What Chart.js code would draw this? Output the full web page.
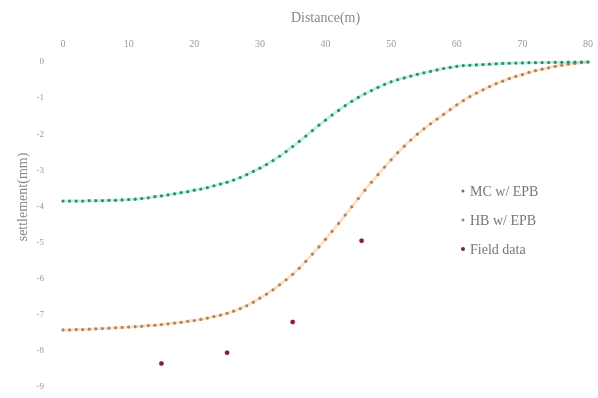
<!DOCTYPE html>
<html>
<head>
<meta charset="utf-8">
<script src="https://cdn.jsdelivr.net/npm/chart.js@4"></script>
<style>
  html, body { margin: 0; padding: 0; background: #fff; }
  #wrap { width: 598px; height: 398px; }
</style>
</head>
<body>
<div id="wrap"><canvas id="settlementChart"></canvas></div>
<script>
// distance along the section (m)
const distance = [0,1,2,3,4,5,6,7,8,9,10,11,12,13,14,15,16,17,18,19,20,
  21,22,23,24,25,26,27,28,29,30,31,32,33,34,35,36,37,38,39,40,
  41,42,43,44,45,46,47,48,49,50,51,52,53,54,55,56,57,58,59,60,
  61,62,63,64,65,66,67,68,69,70,71,72,73,74,75,76,77,78,79,80];

// MC w/ EPB settlement (mm)
const mcEpb = [-3.85,-3.85,-3.85,-3.85,-3.84,-3.84,-3.84,-3.83,-3.83,-3.82,-3.81,
  -3.80,-3.78,-3.76,-3.73,-3.71,-3.68,-3.65,-3.62,-3.59,-3.55,
  -3.52,-3.48,-3.43,-3.38,-3.33,-3.27,-3.20,-3.12,-3.03,-2.94,
  -2.84,-2.73,-2.61,-2.48,-2.34,-2.20,-2.05,-1.90,-1.75,-1.61,
  -1.47,-1.34,-1.21,-1.09,-0.98,-0.88,-0.79,-0.70,-0.62,-0.55,
  -0.49,-0.44,-0.39,-0.34,-0.30,-0.26,-0.22,-0.18,-0.15,-0.12,
  -0.10,-0.09,-0.08,-0.07,-0.06,-0.05,-0.04,-0.035,-0.03,-0.025,
  -0.02,-0.02,-0.015,-0.015,-0.01,-0.01,-0.005,-0.005,0,0];

// HB w/ EPB settlement (mm)
const hbEpb = [-7.42,-7.42,-7.41,-7.41,-7.40,-7.39,-7.38,-7.37,-7.36,-7.35,-7.34,
  -7.33,-7.32,-7.30,-7.29,-7.27,-7.25,-7.23,-7.21,-7.18,-7.16,
  -7.13,-7.09,-7.05,-7.01,-6.96,-6.90,-6.83,-6.75,-6.65,-6.54,
  -6.43,-6.31,-6.17,-6.03,-5.88,-5.71,-5.52,-5.32,-5.12,-4.91,
  -4.69,-4.47,-4.24,-4.01,-3.78,-3.55,-3.33,-3.12,-2.91,-2.71,
  -2.51,-2.33,-2.16,-2.00,-1.85,-1.71,-1.58,-1.45,-1.32,-1.19,
  -1.07,-0.96,-0.86,-0.77,-0.68,-0.60,-0.53,-0.46,-0.40,-0.35,
  -0.29,-0.24,-0.20,-0.16,-0.12,-0.09,-0.06,-0.04,-0.02,0];

// field measurements
const fieldX = [15, 25, 35, 45.5];
const fieldY = [-8.35, -8.05, -7.2, -4.95];

const xTicks = [0, 10, 20, 30, 40, 50, 60, 70, 80];
const yTicks = [0, -1, -2, -3, -4, -5, -6, -7, -8, -9];

const toPoints = (xs, ys) => xs.map((x, i) => ({ x: x, y: ys[i] }));

const serif = "'Liberation Serif', 'DejaVu Serif', serif";

// legend inside the plot + y title centred on the canvas
const extras = {
  id: 'extras',
  afterDraw(chart) {
    const c = chart.ctx;
    c.save();
    c.font = '14px ' + serif;
    c.fillStyle = '#888';
    c.textAlign = 'center';
    c.textBaseline = 'middle';
    c.translate(23, 197);
    c.rotate(-Math.PI / 2);
    c.fillText('settlement(mm)', 0, 0);
    c.restore();

    const x0 = 463, y0 = 191, gap = 29;
    c.save();
    c.font = '14px ' + serif;
    c.textBaseline = 'middle';
    chart.data.datasets.forEach((ds, i) => {
      const y = y0 + i * gap;
      c.fillStyle = ds.legendColor;
      c.beginPath();
      c.arc(x0, y, i === 2 ? 2 : 1.5, 0, Math.PI * 2);
      c.fill();
      c.fillStyle = '#777';
      c.fillText(ds.label, x0 + 7, y + 1);
    });
    c.restore();
  }
};

const ctx = document.getElementById('settlementChart').getContext('2d');

new Chart(ctx, {
  type: 'line',
  data: {
    datasets: [{
      label: 'MC w/ EPB',
      data: toPoints(distance, mcEpb),
      borderColor: 'rgba(60, 220, 170, 0.35)',
      borderWidth: 3,
      pointRadius: 1.6,
      pointBackgroundColor: '#3a876a',
      pointBorderWidth: 0,
      legendColor: '#3a876a',
      tension: 0
    }, {
      label: 'HB w/ EPB',
      data: toPoints(distance, hbEpb),
      borderColor: 'rgba(255, 170, 80, 0.35)',
      borderWidth: 3,
      pointRadius: 1.6,
      pointBackgroundColor: '#a68763',
      pointBorderWidth: 0,
      legendColor: '#a68763',
      tension: 0
    }, {
      label: 'Field data',
      data: toPoints(fieldX, fieldY),
      showLine: false,
      pointRadius: 2.3,
      pointBackgroundColor: '#7d1f3d',
      pointBorderColor: 'rgba(200, 60, 100, 0.3)',
      pointBorderWidth: 1,
      legendColor: '#7d1f3d'
    }]
  },
  options: {
    responsive: true,
    maintainAspectRatio: false,
    animation: false,
    clip: false,
    layout: { padding: { right: 10, bottom: 11 } },
    plugins: {
      legend: { display: false },
      tooltip: { enabled: false }
    },
    scales: {
      x: {
        type: 'linear',
        position: 'top',
        min: 0,
        max: 80,
        afterBuildTicks: s => { s.ticks = xTicks.map(v => ({ value: v })); },
        afterFit: s => { s.height = 62; },
        grid: { display: false },
        border: { display: false },
        ticks: {
          color: '#999',
          padding: 4,
          font: { size: 10, family: serif }
        },
        title: {
          display: true,
          text: 'Distance(m)',
          color: '#888',
          padding: { top: 10, bottom: 12 },
          font: { size: 14, family: serif }
        }
      },
      y: {
        type: 'linear',
        min: -9,
        max: 0,
        afterBuildTicks: s => { s.ticks = yTicks.map(v => ({ value: v })); },
        afterFit: s => { s.width = 63; s.paddingTop = 0; s.paddingBottom = 0; },
        grid: { display: false },
        border: { display: false },
        ticks: {
          color: '#999',
          padding: 11,
          font: { size: 9, family: serif }
        }
      }
    }
  },
  plugins: [extras]
});
</script>
</body>
</html>
